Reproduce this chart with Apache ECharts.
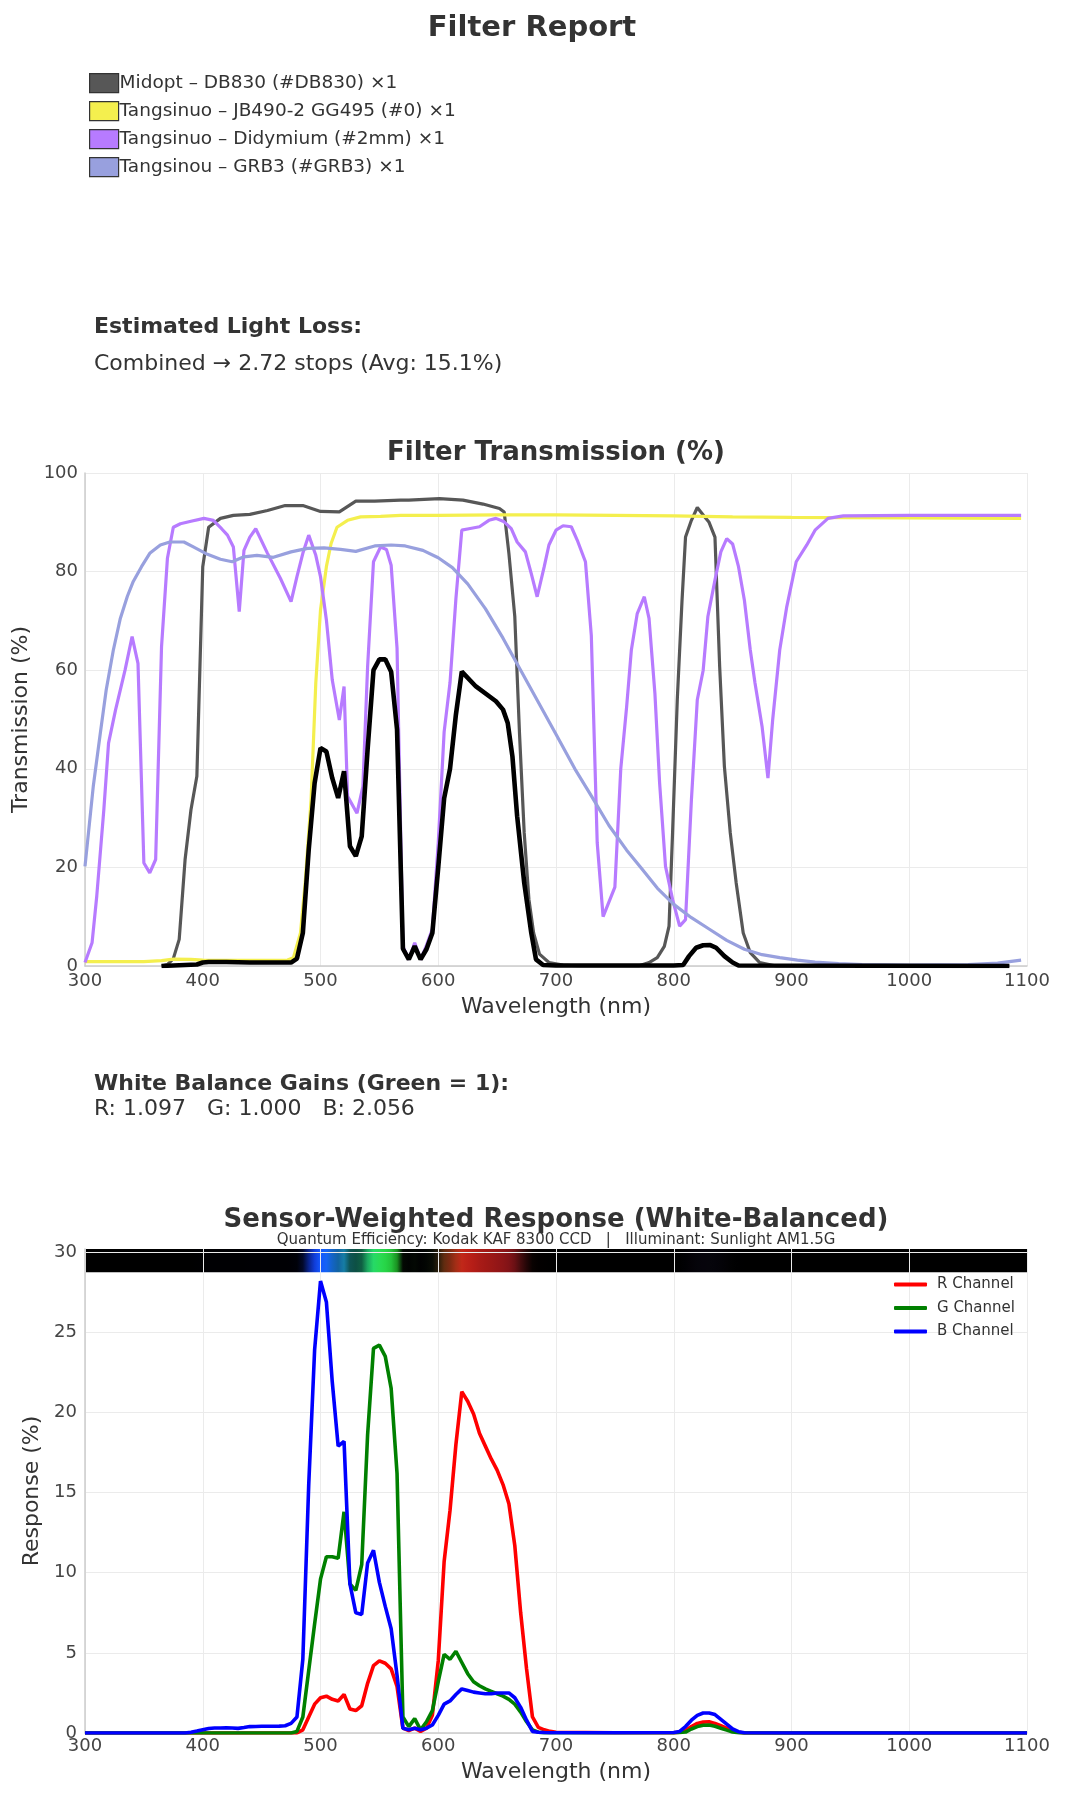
<!DOCTYPE html>
<html><head><meta charset="utf-8">
<script src="https://cdn.jsdelivr.net/npm/echarts@6/dist/echarts.min.js"></script>
<style>html,body{margin:0;padding:0;background:#fff}#c{width:1065px;height:1800px}</style>
</head><body><div id="c"></div>
<script>
const FONT = 'DejaVu Sans';

// ---------- Chart 1: filter transmission ----------
const filterNames = [
  'Midopt – DB830 (#DB830) ×1',
  'Tangsinuo – JB490-2 GG495 (#0) ×1',
  'Tangsinuo – Didymium (#2mm) ×1',
  'Tangsinou – GRB3 (#GRB3) ×1'
];
const filterColors = ['#575757', '#f4ef4e', '#b77bff', '#98a0de'];

const db830 = [[365,0],[370,0.3],[375,1.5],[380,5.4],[385,21.6],[390,31.7],[395,38.5],[400,81],[405,89],[415,90.8],[426,91.4],[440,91.6],[455,92.4],[470,93.4],[485,93.4],[500,92.2],[516,92.1],[530,94.3],[546,94.3],[568,94.5],[575,94.5],[601,94.8],[621,94.5],[638,93.7],[652,92.8],[656,92.1],[660,83.7],[665,70.9],[669,47.2],[673,27],[677,13.5],[681,6.7],[686,2.4],[694,0.7],[706,0.2],[720,0],[770,0],[779,0.7],[786,1.7],[792,4],[796,8.1],[799,27],[803,54],[807,74],[810,87],[815,90.4],[820,93],[825,91.5],[830,90],[835,87],[839,60.7],[843,40.5],[848,27],[853,16.9],[859,6.7],[865,2.7],[873,0.7],[887,0],[1085,0]];

const jb490 = [[300,0.9],[350,0.9],[365,1.1],[375,1.4],[390,1.35],[400,1.2],[420,1.15],[450,1.15],[472,1.2],[477,1.7],[483,6.7],[487,16.9],[492,33.7],[496,57.4],[500,72.2],[505,81],[509,85.7],[514,89],[523,90.4],[534,91.1],[551,91.2],[568,91.4],[600,91.4],[650,91.5],[700,91.5],[750,91.4],[800,91.3],[850,91.1],[900,91.0],[1000,90.9],[1095,90.8]];

const didymium = [[300,0.7],[306,4.7],[310,14.2],[316,31.7],[320,45.2],[326,52],[334,60],[340,66.8],[345,61.4],[350,20.9],[355,18.9],[360,21.6],[365,64.8],[370,82.7],[375,89],[381,89.7],[390,90.2],[401,90.8],[409,90.4],[416,88.7],[421,87.4],[426,85],[431,71.9],[435,84.3],[440,87],[445,88.7],[455,83.7],[466,78.6],[475,73.9],[480,79],[485,83.7],[490,87.4],[496,83.3],[500,79],[505,70.2],[510,58],[516,49.9],[520,56.7],[523,34.4],[531,31],[536,36.4],[540,60.7],[545,82],[551,85],[556,84.5],[560,81.3],[565,64.5],[570,4],[575,1.3],[580,4.7],[585,1.3],[590,4.2],[595,7.5],[600,25],[605,47.5],[610,57.5],[615,74.5],[620,88.4],[626,88.7],[635,89.1],[643,90.4],[649,90.8],[656,90.1],[662,88.7],[667,86],[674,84],[679,79.6],[684,74.9],[690,81],[694,85.4],[700,88.4],[706,89.3],[713,89.1],[718,86.4],[725,82],[730,67],[735,25],[740,10],[745,13],[750,16],[755,40],[760,52.6],[764,64.1],[769,71.5],[775,74.9],[779,70.5],[784,55.3],[788,37.1],[793,20.2],[799,13.5],[805,8.1],[810,9.4],[815,33.7],[820,54],[825,60],[829,70.9],[835,78.3],[840,84],[845,86.7],[850,85.6],[855,81],[860,74.2],[865,64.1],[869,57.4],[875,48.6],[880,38.1],[884,49.9],[890,64.1],[896,72.9],[904,82],[913,85.4],[920,88.4],[931,90.8],[944,91.3],[1000,91.4],[1095,91.4]];

const grb3 = [[300,20.2],[307,36.4],[313,47.2],[318,56],[324,64],[330,70.5],[336,75],[341,78],[348,81],[355,83.7],[364,85.4],[372,86],[384,86],[392,85],[404,83.5],[415,82.5],[425,82],[435,83],[446,83.3],[460,82.9],[475,84],[489,84.7],[503,84.8],[517,84.5],[530,84.1],[546,85.2],[560,85.4],[572,85.2],[587,84.3],[600,82.8],[612,80.8],[625,77.5],[640,72.5],[655,66.5],[670,60],[685,53.5],[700,47],[716,40],[730,34.5],[745,28.5],[760,23.5],[772,20],[786,15.8],[800,12.5],[815,9.8],[830,7.5],[845,5.2],[860,3.4],[875,2.3],[890,1.7],[905,1.2],[920,0.8],[940,0.5],[960,0.3],[1000,0.2],[1050,0.3],[1075,0.6],[1095,1.2]];

const combined = [[365,0],[375,0.1],[385,0.2],[395,0.3],[400,0.7],[405,0.8],[420,0.8],[440,0.7],[460,0.7],[475,0.7],[480,1.5],[485,6.7],[490,23.6],[495,37.1],[500,44.2],[505,43.5],[510,38.1],[515,34.1],[520,39.5],[525,24.3],[530,22.3],[535,26.3],[540,43.9],[545,60],[550,62.2],[555,62.2],[560,59.7],[565,48],[570,3.5],[575,1.35],[580,4.0],[585,1.35],[590,3.4],[595,6.7],[600,20],[605,34],[610,40],[615,51],[620,59.7],[632,56.7],[649,53.7],[655,52],[659,49.3],[663,42.5],[667,30.4],[673,16.9],[679,6.7],[683,1.35],[689,0.2],[700,0.1],[800,0.1],[808,0.2],[813,2],[819,3.7],[825,4.2],[831,4.25],[836,3.7],[843,2.0],[850,0.7],[855,0.1],[1085,0]];

// ---------- Chart 2: sensor-weighted response ----------
const wl2 = [300,350,
  380,385,390,395,400,405,410,415,420,425,
  430,435,440,445,450,455,460,465,470,475,
  480,485,490,495,500,505,510,515,520,525,
  530,535,540,545,550,555,560,565,570,575,
  580,585,590,595,600,605,610,615,620,625,
  630,635,640,645,650,655,660,665,670,675,
  680,685,690,695,700,
  750,
  800,805,810,815,820,825,830,835,840,845,850,855,860,
  900,1000,1100];
const rResp = [0,0,
  0,0,0,0,0,0,0,0,0,0,
  0,0,0,0,0,0,0,0,0,0,
  0,0.2,1.0,1.8,2.2,2.3,2.1,2.0,2.4,1.5,
  1.4,1.7,3.1,4.2,4.5,4.35,4.0,2.9,0.3,0.15,
  0.3,0.1,0.3,1.1,4.5,10.7,13.9,18.0,21.3,20.7,
  19.9,18.7,17.9,17.1,16.4,15.5,14.3,11.7,7.5,4.0,
  1.0,0.35,0.2,0.1,0.05,
  0.02,
  0.02,0.05,0.15,0.4,0.6,0.68,0.7,0.6,0.45,0.3,0.15,0.05,0,
  0,0,0];
const gResp = [0,0,
  0,0,0,0,0,0,0,0,0,0,
  0,0,0,0,0,0,0,0,0,0,
  0.1,1.0,3.9,6.8,9.6,11.0,11.0,10.9,13.8,9.3,
  8.9,10.5,18.6,24.0,24.2,23.5,21.5,16.2,1.0,0.4,
  0.9,0.2,0.7,1.4,3.2,4.9,4.6,5.1,4.4,3.7,
  3.2,2.95,2.75,2.6,2.45,2.3,2.1,1.8,1.3,0.7,
  0.2,0.05,0.02,0.02,0.02,
  0.02,
  0.02,0.03,0.06,0.25,0.4,0.48,0.5,0.42,0.3,0.18,0.06,0.02,0,
  0,0,0];
const bResp = [0,0,
  0,0,0.05,0.12,0.2,0.28,0.31,0.31,0.32,0.31,
  0.29,0.34,0.4,0.41,0.42,0.42,0.42,0.43,0.45,0.6,
  1.0,4.6,15.5,23.9,28.2,26.9,21.9,17.9,18.2,9.3,
  7.5,7.4,10.6,11.4,9.4,7.9,6.5,3.6,0.3,0.2,
  0.3,0.2,0.3,0.5,1.1,1.8,2.0,2.4,2.75,2.65,
  2.55,2.5,2.45,2.45,2.5,2.5,2.5,2.2,1.6,0.8,
  0.1,0.05,0.03,0.02,0.02,
  0.02,
  0.03,0.1,0.4,0.8,1.1,1.25,1.25,1.15,0.85,0.55,0.25,0.08,0.02,
  0,0,0];
const channelNames = ['R Channel', 'G Channel', 'B Channel'];
const channelColors = ['#ff0000', '#008000', '#0000ff'];
const bandRange = [28.75, 30.2];

// tick settings
const xTicks1 = {min: 300, max: 1100, interval: 100};
const yTicks1 = {min: 0, max: 100, interval: 20};
const yTicks2 = {min: 0, max: 30.2, interval: 5};

// ---------- texts ----------
const texts = {
  title: 'Filter Report',
  lossHead: 'Estimated Light Loss:',
  lossBody: 'Combined → 2.72 stops (Avg: 15.1%)',
  chart1Title: 'Filter Transmission (%)',
  wbHead: 'White Balance Gains (Green = 1):',
  wbBody: 'R: 1.097   G: 1.000   B: 2.056',
  chart2Title: 'Sensor-Weighted Response (White-Balanced)',
  chart2Sub: 'Quantum Efficiency: Kodak KAF 8300 CCD   |   Illuminant: Sunlight AM1.5G'
};

const chart = echarts.init(document.getElementById('c'), null, {renderer: 'canvas'});

const zip = (xs, ys) => xs.map((x, i) => [x, ys[i]]);
const respMax = Math.max(...rResp, ...gResp, ...bResp);
const ch = v => Math.round(Math.min(1, v / respMax) * 255);
const bandStops = wl2.map((w, i) => ({
  offset: (w - 300) / 800,
  color: 'rgb(' + ch(rResp[i]) + ',' + ch(gResp[i]) + ',' + ch(bResp[i]) + ')'
}));

const grid1 = {left: 85, top: 473, width: 942, height: 493};
const grid2 = {left: 85, top: 1249, width: 942, height: 484};

function xAxisCfg(idx, margin, nameGap) {
  return {
    type: 'value', gridIndex: idx, min: xTicks1.min, max: xTicks1.max, interval: xTicks1.interval,
    name: 'Wavelength (nm)', nameLocation: 'middle', nameGap: nameGap,
    nameTextStyle: {fontFamily: FONT, fontSize: 22, color: '#333'},
    axisLine: {show: true, lineStyle: {color: '#cccccc', width: 1.5}},
    axisTick: {show: false},
    axisLabel: {fontFamily: FONT, fontSize: 18, color: '#444', margin: margin, formatter: v => String(v)},
    splitLine: {show: true, lineStyle: {color: '#ebebeb', width: 1}}
  };
}

const lineBase = {type: 'line', showSymbol: false, symbol: 'none', smooth: false, animation: false};

const series = [];
[db830, jb490, didymium, grb3].forEach((d, i) => {
  series.push(Object.assign({}, lineBase, {
    name: filterNames[i], xAxisIndex: 0, yAxisIndex: 0, data: d,
    color: filterColors[i], itemStyle: {color: filterColors[i]},
    lineStyle: {color: filterColors[i], width: 3.2}, z: 3
  }));
});
series.push(Object.assign({}, lineBase, {
  name: 'Combined', xAxisIndex: 0, yAxisIndex: 0, data: combined,
  color: '#000', lineStyle: {color: '#000', width: 4.6}, z: 4
}));
series.push({
  type: 'custom', xAxisIndex: 1, yAxisIndex: 1, z: -1, silent: true, animation: false,
  data: [[xTicks1.min, xTicks1.max, bandRange[0], bandRange[1]]],
  encode: {x: [0, 1], y: [2, 3]},
  renderItem: function (params, api) {
    const p0 = api.coord([api.value(0), api.value(3)]);
    const p1 = api.coord([api.value(1), api.value(2)]);
    return {
      type: 'rect',
      shape: {x: p0[0], y: p0[1], width: p1[0] - p0[0], height: p1[1] - p0[1]},
      style: {fill: new echarts.graphic.LinearGradient(0, 0, 1, 0, bandStops)}
    };
  }
});
[rResp, gResp, bResp].forEach((v, i) => {
  series.push(Object.assign({}, lineBase, {
    name: channelNames[i], xAxisIndex: 1, yAxisIndex: 1, data: zip(wl2, v),
    color: channelColors[i], itemStyle: {color: channelColors[i]},
    lineStyle: {color: channelColors[i], width: 3.6}, z: 3
  }));
});

const option = {
  animation: false,
  backgroundColor: '#ffffff',
  textStyle: {fontFamily: FONT},
  grid: [grid1, grid2],
  xAxis: [xAxisCfg(0, 6, 30), xAxisCfg(1, 4, 28)],
  yAxis: [
    {
      type: 'value', gridIndex: 0, min: yTicks1.min, max: yTicks1.max, interval: yTicks1.interval,
      name: 'Transmission (%)', nameLocation: 'middle', nameGap: 51,
      nameTextStyle: {fontFamily: FONT, fontSize: 22, color: '#333'},
      axisLine: {show: true, lineStyle: {color: '#cccccc', width: 1.5}},
      axisTick: {show: false},
      axisLabel: {fontFamily: FONT, fontSize: 18, color: '#444', margin: 7},
      splitLine: {show: true, lineStyle: {color: '#ebebeb', width: 1}}
    },
    {
      type: 'value', gridIndex: 1, min: yTicks2.min, max: yTicks2.max, interval: yTicks2.interval,
      name: 'Response (%)', nameLocation: 'middle', nameGap: 40,
      nameTextStyle: {fontFamily: FONT, fontSize: 22, color: '#333'},
      axisLine: {show: true, lineStyle: {color: '#cccccc', width: 1.5}},
      axisTick: {show: false},
      axisLabel: {fontFamily: FONT, fontSize: 18, color: '#444', margin: 8, showMaxLabel: false},
      splitLine: {show: true, showMaxLine: false, lineStyle: {color: '#ebebeb', width: 1}}
    }
  ],
  legend: [
    {
      data: filterNames, orient: 'vertical', left: 84, top: 68,
      icon: 'rect', itemWidth: 29, itemHeight: 19, itemGap: 7.8,
      itemStyle: {borderColor: '#333', borderWidth: 1.2},
      textStyle: {fontFamily: FONT, fontSize: 18.5, color: '#333', padding: [0, 0, 0, -4]},
      selectedMode: false
    },
    {
      data: channelNames, orient: 'vertical', left: 889, top: 1272,
      icon: 'roundRect', itemWidth: 33, itemHeight: 4, itemGap: 8.5,
      textStyle: {fontFamily: FONT, fontSize: 15, color: '#333', padding: [0, 0, 0, 5]},
      selectedMode: false
    }
  ],
  graphic: [
    {type: 'text', x: 532, y: 28, style: {text: texts.title, fontFamily: FONT, fontSize: 29, fontWeight: 'bold', fill: '#333', align: 'center', verticalAlign: 'middle'}},
    {type: 'text', x: 94, y: 327, style: {text: texts.lossHead, fontFamily: FONT, fontSize: 22, fontWeight: 'bold', fill: '#333', align: 'left', verticalAlign: 'middle'}},
    {type: 'text', x: 94, y: 364, style: {text: texts.lossBody, fontFamily: FONT, fontSize: 22, fill: '#333', align: 'left', verticalAlign: 'middle'}},
    {type: 'text', x: 556, y: 453, style: {text: texts.chart1Title, fontFamily: FONT, fontSize: 26, fontWeight: 'bold', fill: '#333', align: 'center', verticalAlign: 'middle'}},
    {type: 'text', x: 94, y: 1084, style: {text: texts.wbHead, fontFamily: FONT, fontSize: 22, fontWeight: 'bold', fill: '#333', align: 'left', verticalAlign: 'middle'}},
    {type: 'text', x: 94, y: 1109, style: {text: texts.wbBody, fontFamily: FONT, fontSize: 22, fill: '#333', align: 'left', verticalAlign: 'middle'}},
    {type: 'text', x: 556, y: 1220, style: {text: texts.chart2Title, fontFamily: FONT, fontSize: 26, fontWeight: 'bold', fill: '#333', align: 'center', verticalAlign: 'middle'}},
    {type: 'text', x: 556, y: 1240, style: {text: texts.chart2Sub, fontFamily: FONT, fontSize: 15, fill: '#333', align: 'center', verticalAlign: 'middle'}}
  ],
  series: series
};
chart.setOption(option);
</script>
</body></html>
